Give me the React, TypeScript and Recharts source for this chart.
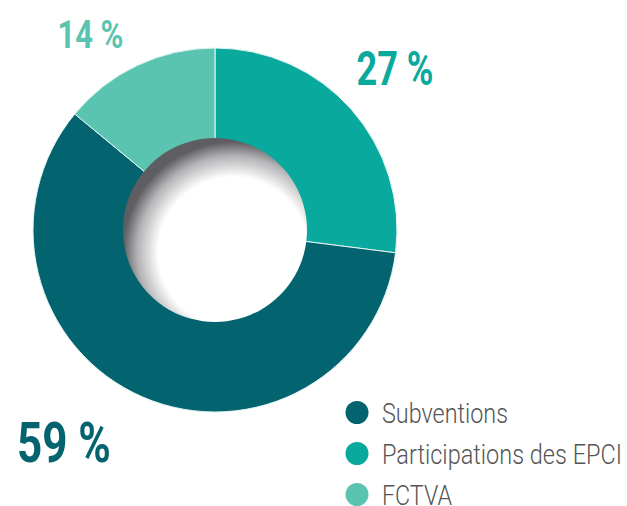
import React from 'react';
import { PieChart, Pie, Cell, Legend } from 'recharts';

const categories = ['Participations des EPCI', 'Subventions', 'FCTVA'];
const shares = [27, 59, 14];
const legendOrder = ['Subventions', 'Participations des EPCI', 'FCTVA'];

const COLORS: Record<string, string> = {
  'Subventions': '#03646f',
  'Participations des EPCI': '#0aa99e',
  'FCTVA': '#5bc4b0',
};

// per-slice label look: font size, squeezed width, nudge from the radial point
const LABEL_STYLE: Record<string, { size: number; len: number; dx: number; dy: number }> = {
  'Participations des EPCI': { size: 49, len: 77, dx: -1.5, dy: 15 },
  'Subventions': { size: 56, len: 94, dx: -55, dy: 10 },
  'FCTVA': { size: 39, len: 66, dx: -21.5, dy: 37 },
};
// legend text widths (condensed look)
const LEGEND_LEN: Record<string, number> = {
  'Subventions': 126,
  'Participations des EPCI': 240,
  'FCTVA': 70,
};

const CX = 215;
const CY = 230;
const OUTER = 182;
const INNER = 92;
const FONT = 'Roboto, "Noto Sans", sans-serif';

const data = categories.map((name, i) => ({ name, value: shares[i] }));
const hole = [{ name: 'hole', value: 1 }];

const RADIAN = Math.PI / 180;

function renderLabel(props: any) {
  const { cx, cy, midAngle, outerRadius, index } = props;
  const entry = data[index];
  const st = LABEL_STYLE[entry.name];
  const r = outerRadius + 60;
  const x = cx + r * Math.cos(-midAngle * RADIAN) + st.dx;
  const y = cy + r * Math.sin(-midAngle * RADIAN) + st.dy;
  return (
    <text
      x={x}
      y={y}
      textAnchor="middle"
      fill={COLORS[entry.name]}
      fontFamily={FONT}
      fontWeight={700}
      fontSize={st.size}
      textLength={st.len}
      lengthAdjust="spacingAndGlyphs"
    >
      {`${entry.value} %`}
    </text>
  );
}

function renderLegend() {
  return (
    <svg width={278} height={114} style={{ display: 'block', overflow: 'visible' }}>
      {legendOrder.map((name, i) => (
        <g key={name}>
          <circle cx={12} cy={20.5 + i * 41} r={11.5} fill={COLORS[name]} />
          <text
            x={37}
            y={31 + i * 41.2}
            fontFamily={FONT}
            fontWeight={300}
            fontSize={28}
            fill="#555"
            textLength={LEGEND_LEN[name]}
            lengthAdjust="spacingAndGlyphs"
          >
            {name}
          </text>
        </g>
      ))}
    </svg>
  );
}

export default function App() {
  return (
    <div style={{ position: 'absolute', left: 0, top: 0, width: 627, height: 506, background: '#fff' }}>
      <PieChart width={627} height={506} margin={{ top: 0, right: 0, bottom: 0, left: 0 }}>
        <defs>
          <radialGradient id="holeShade" cx="0.6" cy="0.62" r="0.6">
            <stop offset="0%" stopColor="#ffffff" />
            <stop offset="68%" stopColor="#ffffff" />
            <stop offset="87%" stopColor="#b3b3b6" />
            <stop offset="100%" stopColor="#5e5e62" />
          </radialGradient>
        </defs>
        <Pie
          data={data}
          dataKey="value"
          nameKey="name"
          cx={CX}
          cy={CY}
          innerRadius={0}
          outerRadius={OUTER}
          startAngle={90}
          endAngle={-270}
          stroke="#e4f6f3"
          strokeWidth={1}
          label={renderLabel}
          labelLine={false}
          isAnimationActive={false}
        >
          {data.map((d) => (
            <Cell key={d.name} fill={COLORS[d.name]} />
          ))}
        </Pie>
        <Pie
          data={hole}
          dataKey="value"
          cx={CX}
          cy={CY}
          innerRadius={0}
          outerRadius={INNER}
          stroke="none"
          fill="url(#holeShade)"
          isAnimationActive={false}
        />
        <Legend
          content={renderLegend}
          wrapperStyle={{ left: 345, top: 392, width: 278, height: 114, bottom: 'auto' }}
        />
      </PieChart>
    </div>
  );
}
